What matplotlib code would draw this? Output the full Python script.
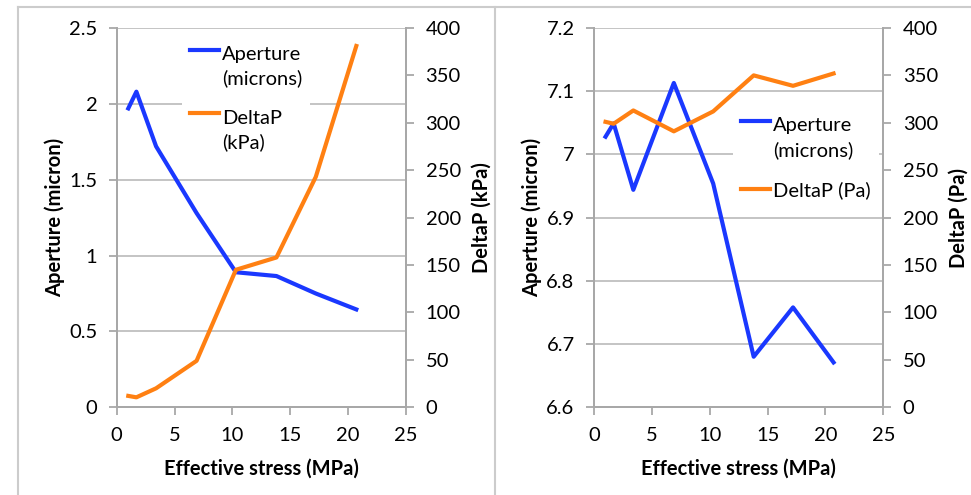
import matplotlib.pyplot as plt
from matplotlib.lines import Line2D
from matplotlib.ticker import FuncFormatter, MultipleLocator

plt.rcParams['font.family'] = ['Lato', 'DejaVu Sans']

# effective stress (MPa), same for both tests
stress = [1.0, 1.7, 3.4, 6.9, 10.3, 13.8, 17.2, 20.7]

# left test
aperture_a = [1.97, 2.08, 1.72, 1.28, 0.89, 0.865, 0.75, 0.645]
deltap_a = [12, 10.5, 20, 49, 145, 158, 243, 381]   # kPa

# right test
aperture_b = [7.028, 7.049, 6.944, 7.113, 6.954, 6.680, 6.758, 6.671]
deltap_b = [301, 299, 313, 291, 312, 350, 339, 352]   # Pa

BLUE = '#1a38ff'
ORANGE = '#ff8012'
GRID = '#bfbfbf'
SPINE = '#a8a8a8'
FS = 14.5

fig = plt.figure(figsize=(9.71, 4.95), dpi=100)


def style_axes(ax1, ax2, ylim, ystep, ylab, y2lab):
    ax1.set_xlim(0, 25)
    ax1.xaxis.set_major_locator(MultipleLocator(5))
    ax1.set_ylim(*ylim)
    ax1.yaxis.set_major_locator(MultipleLocator(ystep))
    ax1.yaxis.set_major_formatter(FuncFormatter(lambda v, p: f"{round(v, 3):g}"))
    ax2.set_ylim(0, 400)
    ax2.yaxis.set_major_locator(MultipleLocator(50))
    ax1.grid(True, axis='y', color=GRID, linewidth=1.3)
    ax1.set_axisbelow(True)
    for ax in (ax1, ax2):
        ax.spines['top'].set_visible(False)
        for s in ('left', 'bottom', 'right'):
            ax.spines[s].set_color(SPINE)
            ax.spines[s].set_linewidth(1.3)
        ax.tick_params(direction='out', length=6, width=1.3, color=SPINE,
                       labelsize=FS, pad=8)
    ax1.set_xlabel("Effective stress (MPa)", fontsize=FS, fontweight='bold', labelpad=11)
    ax1.set_ylabel(ylab, fontsize=FS, fontweight='bold', labelpad=3)
    ax2.set_ylabel(y2lab, fontsize=FS, fontweight='bold', labelpad=8)


def add_legend(ax, handles, labels, anchor):
    leg = ax.legend(handles, labels, loc='upper left', bbox_to_anchor=anchor,
                    fontsize=FS, frameon=True, framealpha=1, edgecolor='none',
                    facecolor='white', borderaxespad=0, borderpad=0.4,
                    handlelength=1.45, handletextpad=0.15, labelspacing=1.1)
    for t in leg.get_texts():
        t.set_linespacing(1.45)
    # Excel puts the line next to the first text line
    for h, t in zip(leg.legend_handles, labels):
        if '\n' in t:
            h.set_ydata([y + 0.85 * FS for y in h.get_ydata()])
    return leg


# left chart
ax1 = fig.add_axes([0.1202, 0.1772, 0.298, 0.7663])
ax2 = ax1.twinx()
l1, = ax1.plot(stress, aperture_a, color=BLUE, linewidth=3)
l2, = ax2.plot(stress, deltap_a, color=ORANGE, linewidth=3)
style_axes(ax1, ax2, (0, 2.5), 0.5, "Aperture (micron)", "DeltaP (kPa)")
add_legend(ax2, [l1, l2], ["Aperture\n(microns)", "DeltaP\n(kPa)"], (0.225, 0.974))

# right chart
ax3 = fig.add_axes([0.6117, 0.1772, 0.298, 0.7663])
ax4 = ax3.twinx()
l3, = ax3.plot(stress, aperture_b, color=BLUE, linewidth=3)
l4, = ax4.plot(stress, deltap_b, color=ORANGE, linewidth=3)
style_axes(ax3, ax4, (6.6, 7.2), 0.1, "Aperture (micron)", "DeltaP (Pa)")
add_legend(ax4, [l3, l4], ["Aperture\n(microns)", "DeltaP (Pa)"], (0.48, 0.786))

# chart area borders
W, H = 971, 495
frame = dict(color='#cccccc', linewidth=1.5)
fig.add_artist(Line2D([18 / W, 1], [1 - 7 / H, 1 - 7 / H], **frame))
fig.add_artist(Line2D([18 / W, 18 / W], [0, 1 - 7 / H], **frame))
fig.add_artist(Line2D([495 / W, 495 / W], [0, 1 - 7 / H], **frame))

fig.savefig("out.png", dpi=100)
